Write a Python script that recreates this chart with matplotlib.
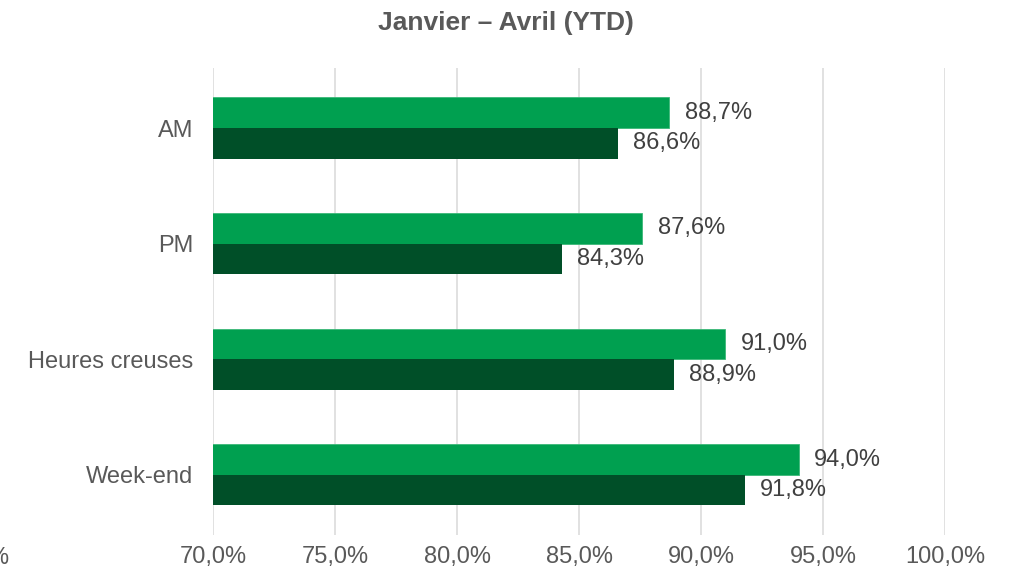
import matplotlib
matplotlib.use("Agg")
import matplotlib.pyplot as plt
import numpy as np

categories = ["AM", "PM", "Heures creuses", "Week-end"]
serie_claire = [88.7, 87.6, 91.0, 94.0]
serie_foncee = [86.6, 84.3, 88.9, 91.8]
ticks = [70, 75, 80, 85, 90, 95, 100]

plt.rcParams['font.family'] = ['Liberation Sans', 'DejaVu Sans']
gris = '#595959'
vert_clair = '#00A050'
vert_fonce = '#004F28'

fig = plt.figure(figsize=(10.12, 5.74), dpi=100)
ax = fig.add_axes([0.2105, 0.068, 0.7233, 0.8135])

y = np.arange(len(categories))
h = 0.265
b1 = ax.barh(y - h / 2, serie_claire, height=h, left=0, color=vert_clair,
             edgecolor='#3CB878', linewidth=0.6, zorder=3)
b2 = ax.barh(y + h / 2, serie_foncee, height=h, color=vert_fonce, zorder=3)

def fmt(v):
    return f"{v:.1f}%".replace('.', ',')

for bars, vals in ((b1, serie_claire), (b2, serie_foncee)):
    for r, v in zip(bars, vals):
        ax.annotate(fmt(v), (v, r.get_y() + r.get_height() / 2),
                    xytext=(11, 0), textcoords='offset points',
                    ha='left', va='center', fontsize=17, color='#404040')

ax.set_xlim(70, 100)
ax.set_ylim(3.52, -0.52)
ax.set_xticks(ticks)
ax.set_xticklabels([fmt(t) for t in ticks])
ax.set_yticks(y)
ax.set_yticklabels(categories)
ax.tick_params(axis='both', length=0, labelsize=17, labelcolor=gris)
ax.tick_params(axis='y', pad=14)
ax.tick_params(axis='x', pad=8)
ax.grid(axis='x', color='#D9D9D9', linewidth=1.1, zorder=0)
for s in ax.spines.values():
    s.set_visible(False)

fig.text(0.5, 0.96, "Janvier \u2013 Avril (YTD)", ha='center', va='center',
         fontsize=19, fontweight='bold', color=gris)
# libelle coupe au bord gauche, comme sur l'original
fig.text(10 / 1012, 0.028, "65,0%", ha='right', va='center', fontsize=17, color=gris)

fig.savefig("out.png", dpi=100)
